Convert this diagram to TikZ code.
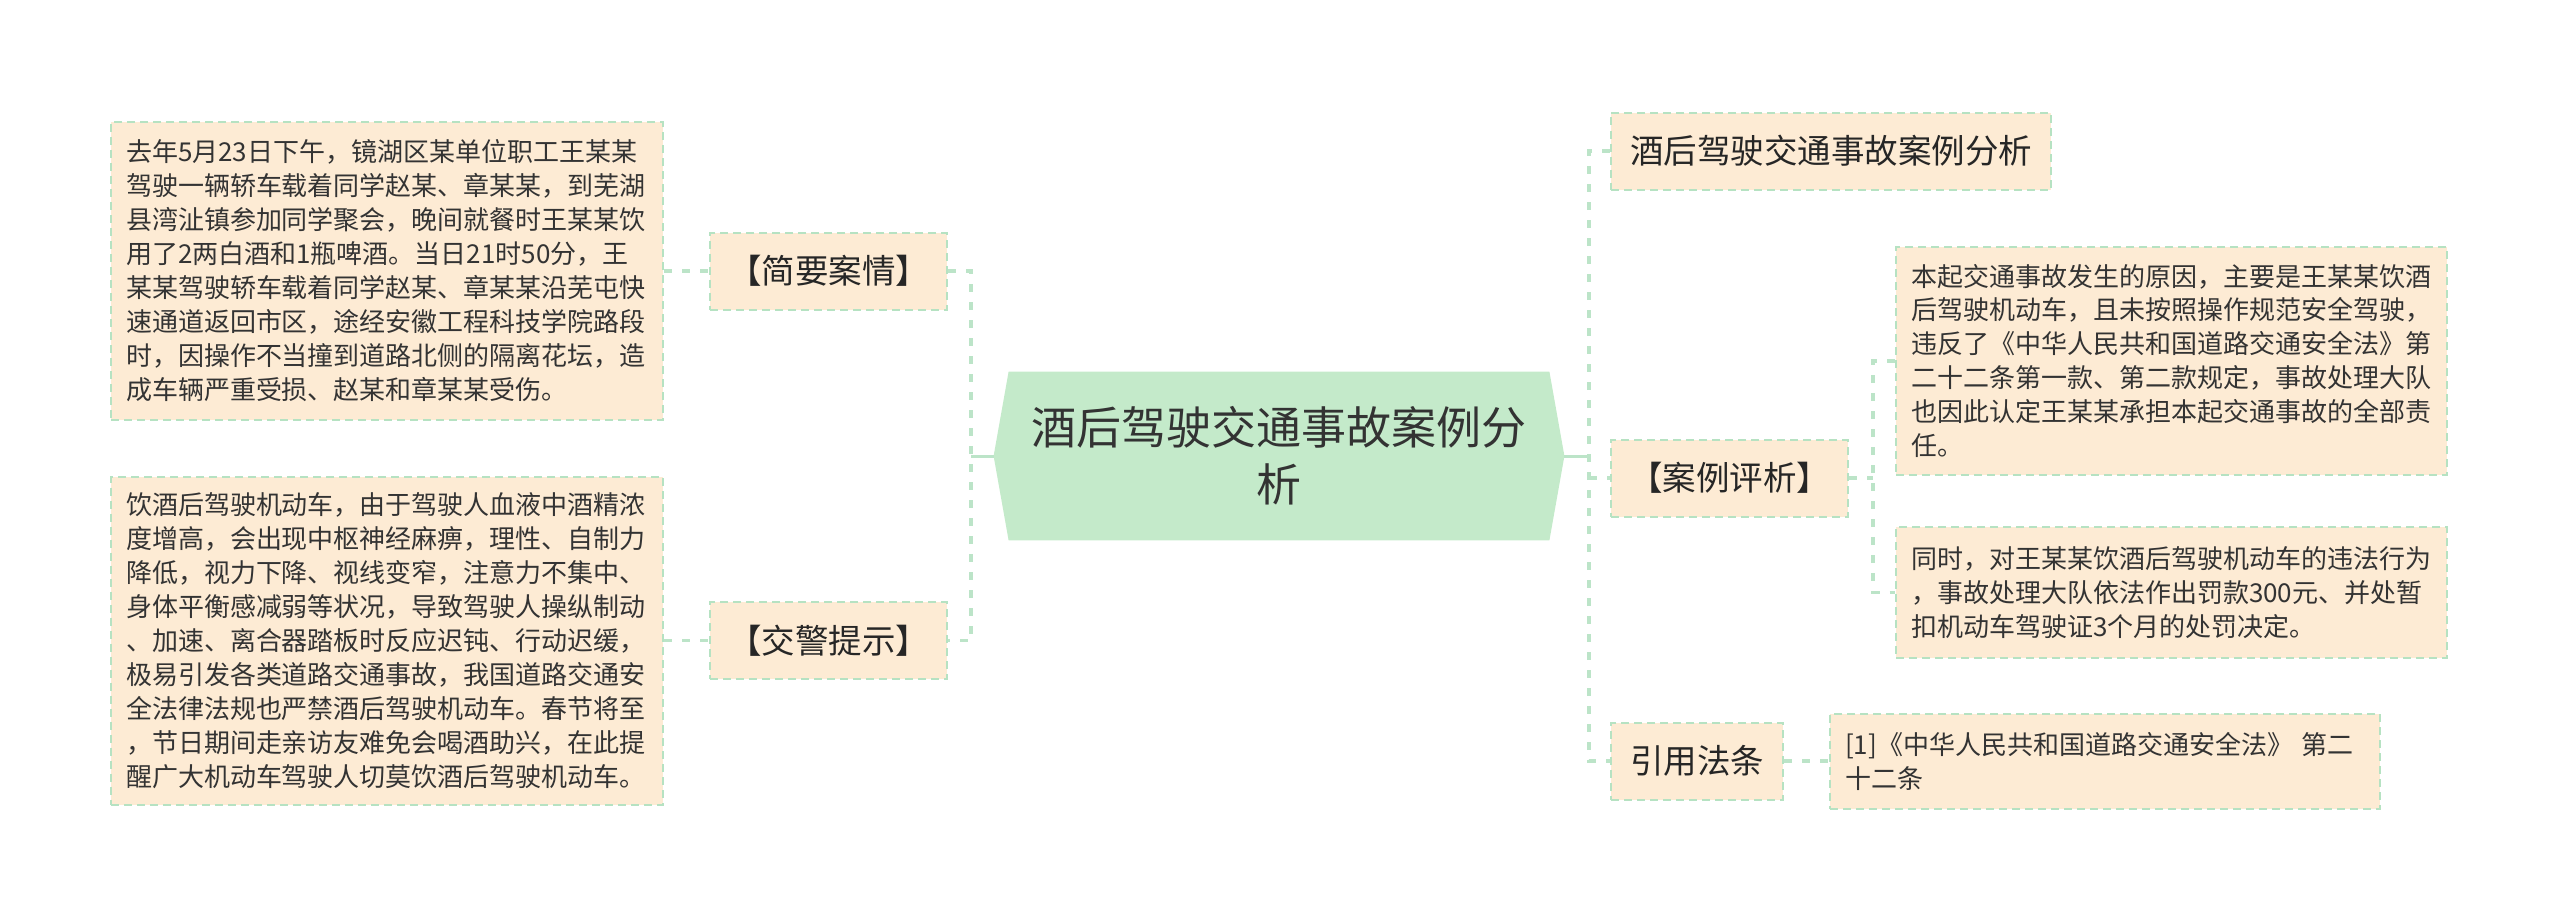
\documentclass[tikz,border=0pt]{standalone}
\usepackage{fontspec}
\setmainfont{Noto Sans CJK SC}
\usetikzlibrary{backgrounds}
\definecolor{peach}{HTML}{FDEBD4}
\definecolor{bordergreen}{HTML}{B6E2C2}
\definecolor{linegreen}{HTML}{BCE4C8}
\definecolor{rootgreen}{HTML}{C4EACA}
\definecolor{txt}{HTML}{333333}
\begin{document}
\begin{tikzpicture}[x=0.5pt,y=-0.5pt,
  leaf/.style={draw=bordergreen, line width=1pt, dash pattern=on 4pt off 2.5pt, fill=peach, text=txt,
    font=\fontsize{13}{17}\selectfont, align=left, inner xsep=7.5pt, inner ysep=0pt, anchor=center},
  branch/.style={draw=bordergreen, line width=1pt, dash pattern=on 4pt off 2.5pt, fill=peach, text=black!85,
    font=\fontsize{16.75}{20}\selectfont, align=center, inner sep=0pt, minimum height=38.5pt, anchor=center},
  conn/.style={draw=linegreen, line width=1.6pt, dash pattern=on 4pt off 5pt},
  rootconn/.style={draw=linegreen, line width=1.5pt}
]
\path[use as bounding box] (0,0) rectangle (2560,921);

% root
\node[text=txt, font=\fontsize{22.5}{28.5}\selectfont, align=center, minimum width=285pt, minimum height=84pt, inner sep=0pt] (root) at (1279,456) {酒后驾驶交通事故案例分\\析};
\begin{scope}[on background layer]
\fill[rootgreen] (root.west) -- ([xshift=7.5pt]root.north west) -- ([xshift=-7.5pt]root.north east) -- (root.east) -- ([xshift=-7.5pt]root.south east) -- ([xshift=7.5pt]root.south west) -- cycle;
\end{scope}

% left side
\node[branch, minimum width=118.5pt] (jianyao) at (828.5,271) {【简要案情】};
\node[branch, minimum width=118.5pt] (jiaojing) at (828.5,640.5) {【交警提示】};
\node[leaf, text width=261pt, minimum height=149pt] (box1) at (387,271) {去年5月23日下午，镜湖区某单位职工王某某\\驾驶一辆轿车载着同学赵某、章某某，到芜湖\\县湾沚镇参加同学聚会，晚间就餐时王某某饮\\用了2两白酒和1瓶啤酒。当日21时50分，王\\某某驾驶轿车载着同学赵某、章某某沿芜屯快\\速通道返回市区，途经安徽工程科技学院路段\\时，因操作不当撞到道路北侧的隔离花坛，造\\成车辆严重受损、赵某和章某某受伤。};
\node[leaf, text width=261pt, minimum height=164pt] (box2) at (387,640.5) {饮酒后驾驶机动车，由于驾驶人血液中酒精浓\\度增高，会出现中枢神经麻痹，理性、自制力\\降低，视力下降、视线变窄，注意力不集中、\\身体平衡感减弱等状况，导致驾驶人操纵制动\\、加速、离合器踏板时反应迟钝、行动迟缓，\\极易引发各类道路交通事故，我国道路交通安\\全法律法规也严禁酒后驾驶机动车。春节将至\\，节日期间走亲访友难免会喝酒助兴，在此提\\醒广大机动车驾驶人切莫饮酒后驾驶机动车。};

% right side
\node[branch, minimum width=220pt] (title) at (1831,151) {酒后驾驶交通事故案例分析};
\node[branch, minimum width=118.5pt] (pingxi) at (1729.5,478) {【案例评析】};
\node[branch, minimum width=86pt] (yinyong) at (1697,761) {引用法条};
\node[leaf, text width=260.5pt, minimum height=114pt] (rt1) at (2171.5,361) {本起交通事故发生的原因，主要是王某某饮酒\\后驾驶机动车，且未按照操作规范安全驾驶，\\违反了《中华人民共和国道路交通安全法》第\\二十二条第一款、第二款规定，事故处理大队\\也因此认定王某某承担本起交通事故的全部责\\任。};
\node[leaf, text width=260.5pt, minimum height=65.5pt] (rt2) at (2171.5,592.5) {同时，对王某某饮酒后驾驶机动车的违法行为\\，事故处理大队依法作出罚款300元、并处暂\\扣机动车驾驶证3个月的处罚决定。};
\node[leaf, text width=260pt, minimum height=47.5pt] (law) at (2105,761) {[1]《中华人民共和国道路交通安全法》 第二\\十二条};

% junctions
\coordinate (lj) at (971,456);
\coordinate (rj) at (1589,456);
\coordinate (pj) at (1873,478);

% connectors
\draw[rootconn] (root.west) -- (lj);
\draw[rootconn] (root.east) -- (rj);
\draw[conn] (jianyao.east) -- (jianyao.east -| lj) -- (jiaojing.east -| lj) -- (jiaojing.east);
\draw[conn] (box1.east) -- (jianyao.west);
\draw[conn] (box2.east) -- (jiaojing.west);
\draw[conn] (title.west) -- (title.west -| rj) -- (yinyong.west -| rj) -- (yinyong.west);
\draw[conn] (pingxi.west -| rj) -- (pingxi.west);
\draw[conn] (pingxi.east) -- (pj);
\draw[conn] (rt1.west) -- (rt1.west -| pj) -- (rt2.west -| pj) -- (rt2.west);
\draw[conn] (yinyong.east) -- (law.west);
\end{tikzpicture}
\end{document}
